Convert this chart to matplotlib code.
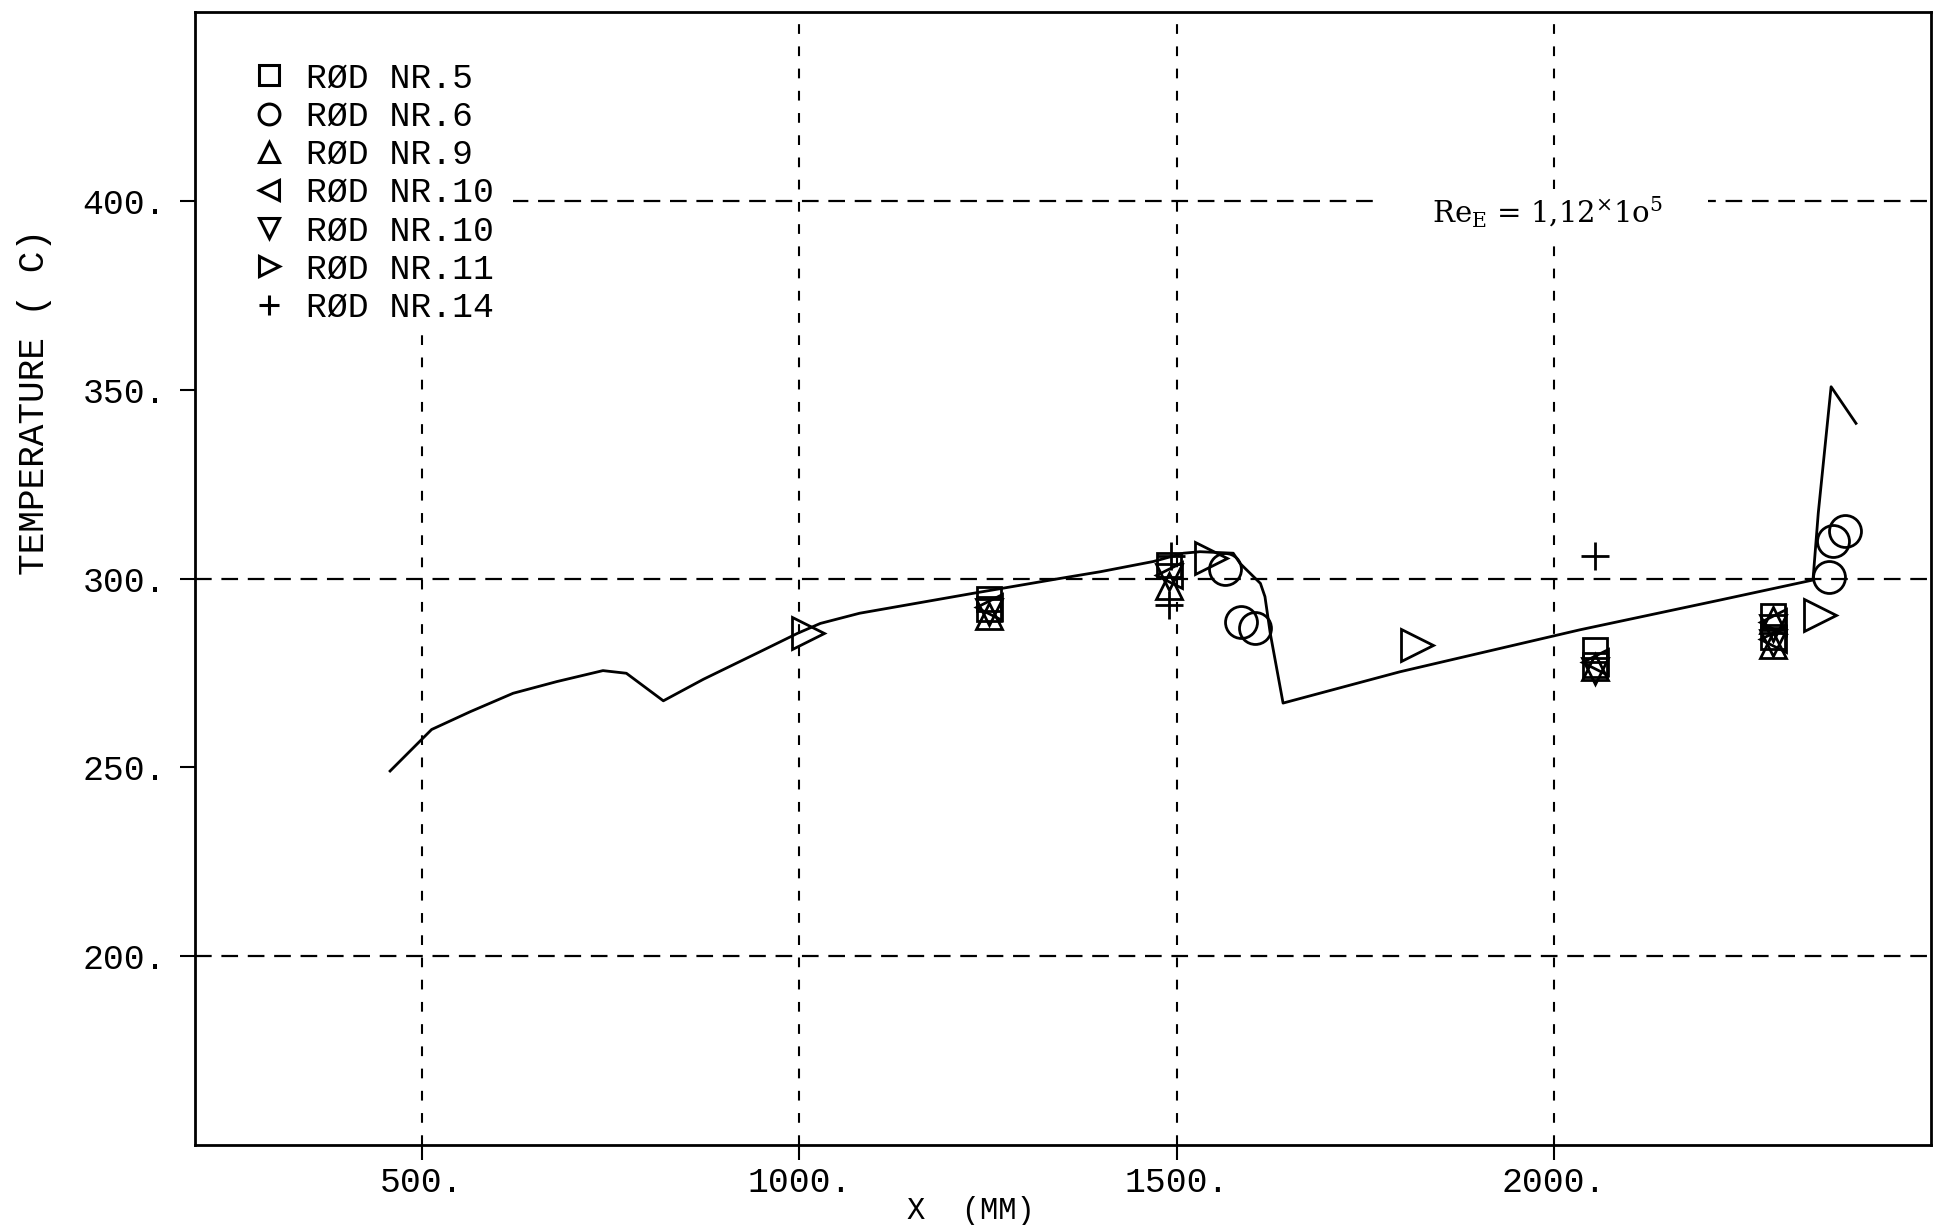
import matplotlib
matplotlib.use("Agg")
import matplotlib.pyplot as plt
from matplotlib.lines import Line2D
from matplotlib.patches import Rectangle

plt.rcParams['font.family'] = ['Liberation Mono', 'DejaVu Sans Mono']
plt.rcParams['lines.scale_dashes'] = False
plt.rcParams['mathtext.fontset'] = 'dejavuserif'

# ---- calculated temperature along the rod (solid line) ----
calc_x = [458, 498, 513, 564, 621, 679, 740, 771, 820, 873, 948, 998, 1028, 1080,
          1231, 1345, 1399, 1469, 1509, 1531, 1575, 1584, 1611, 1617, 1624, 1641,
          1796, 2034, 2220, 2343, 2350, 2367, 2400]
calc_t = [249.0, 257.0, 260.0, 264.7, 269.6, 272.7, 275.6, 274.9, 267.6, 273.3, 280.6,
          285.5, 288.1, 290.8, 296.1, 300.0, 301.8, 304.5, 306.7, 307.1, 306.7, 304.0,
          298.7, 295.2, 285.5, 267.0, 275.3, 286.4, 294.3, 299.6, 317.3, 350.8, 341.1]

# ---- measured rod temperatures ----
rod5_x = [1252, 1252, 1490, 2054, 2054, 2290, 2290]
rod5_t = [294.5, 292.0, 303.5, 281.0, 277.0, 290.0, 284.5]

rod6_x = [1564, 1585, 1604, 2364, 2370, 2385]
rod6_t = [302.5, 288.5, 287.0, 300.3, 310.0, 312.7]

rod9_x = [1252, 1490, 2054, 2290, 2290]
rod9_t = [290.0, 298.0, 276.5, 289.0, 282.5]

rod10a_x = [1252, 1490, 2054, 2290, 2290]
rod10a_t = [292.5, 301.0, 278.0, 288.5, 284.0]

rod10b_x = [1252, 1490, 2054, 2290, 2290]
rod10b_t = [291.0, 300.5, 275.5, 287.0, 283.0]

rod11_x = [1012, 1545, 1818, 2352]
rod11_t = [285.5, 305.5, 282.4, 290.3]

rod14_x = [1492, 1490, 2054]
rod14_t = [306.0, 293.0, 306.0]

rod_labels = ["RØD NR.5", "RØD NR.6", "RØD NR.9", "RØD NR.10",
              "RØD NR.10", "RØD NR.11", "RØD NR.14"]

x_ticks = [500, 1000, 1500, 2000]
x_ticklabels = ["500.", "1000.", "1500.", "2000."]
y_ticks = [200, 250, 300, 350, 400]
y_ticklabels = ["200.", "250.", "300.", "350.", "400."]
h_grid = [200, 300, 400]
v_grid = [500, 1000, 1500, 2000]

fig = plt.figure(figsize=(19.34, 12.25), dpi=100)
ax = fig.add_axes([0.1010, 0.0655, 0.8977, 0.9245])
ax.set_xlim(200, 2500)
ax.set_ylim(150, 450)

for yv in h_grid:
    ax.axhline(yv, color='black', lw=1.6, dashes=(12, 7), zorder=1)
for xv in v_grid:
    ax.axvline(xv, color='black', lw=1.5, dashes=(7, 9), zorder=1)

# white area behind the key
ax.add_patch(Rectangle((0, 0.717), 0.183, 0.283, transform=ax.transAxes,
                       facecolor='white', edgecolor='none', zorder=2.5))

ax.plot(calc_x, calc_t, color='black', lw=2.0, zorder=3)

mk = dict(linestyle='none', markerfacecolor='none', markeredgecolor='black',
          markeredgewidth=2.0, zorder=4)
series = [
    (rod5_x, rod5_t, 's', 17),
    (rod6_x, rod6_t, 'o', 23),
    (rod9_x, rod9_t, '^', 19),
    (rod10a_x, rod10a_t, '<', 19),
    (rod10b_x, rod10b_t, 'v', 19),
    (rod11_x, rod11_t, '>', 23),
    (rod14_x, rod14_t, '+', 20),
]
for xs, ts, m, ms in series:
    ax.plot(xs, ts, marker=m, markersize=ms, **mk)

handles = [Line2D([], [], marker=m, markersize=15, linestyle='none',
                  markerfacecolor='none', markeredgecolor='black',
                  markeredgewidth=2.2) for _, _, m, _ in series]
ax.legend(handles, rod_labels, loc='upper left', bbox_to_anchor=(0.0324, 0.9565),
          borderaxespad=0, borderpad=0, frameon=False, fontsize=25,
          labelspacing=0.15, handlelength=1.0, handletextpad=0.566)

ax.text(1987, 397, "     Re$_{\\mathrm{E}}$ = 1,12$^{\\times}$1o$^{5}$     ",
        family='DejaVu Serif', fontsize=21, ha='center', va='center', zorder=5,
        bbox=dict(facecolor='white', edgecolor='none', pad=4))

ax.set_xticks(x_ticks)
ax.set_xticklabels(x_ticklabels)
ax.set_yticks(y_ticks)
ax.set_yticklabels(y_ticklabels)
ax.tick_params(axis='both', direction='out', length=11, width=1.5, labelsize=25)
ax.tick_params(axis='x', pad=4)
ax.tick_params(axis='y', pad=10)
for s in ax.spines.values():
    s.set_linewidth(2.0)

fig.text(35 / 1934, 1 - 402 / 1225, "TEMPERATURE ( C)", rotation=90,
         ha='center', va='center', fontsize=26)
fig.text(971 / 1934, 1 - 1211 / 1225, "X  (MM)", ha='center', va='center',
         fontsize=22)

fig.savefig("out.png", dpi=100, facecolor='white')
